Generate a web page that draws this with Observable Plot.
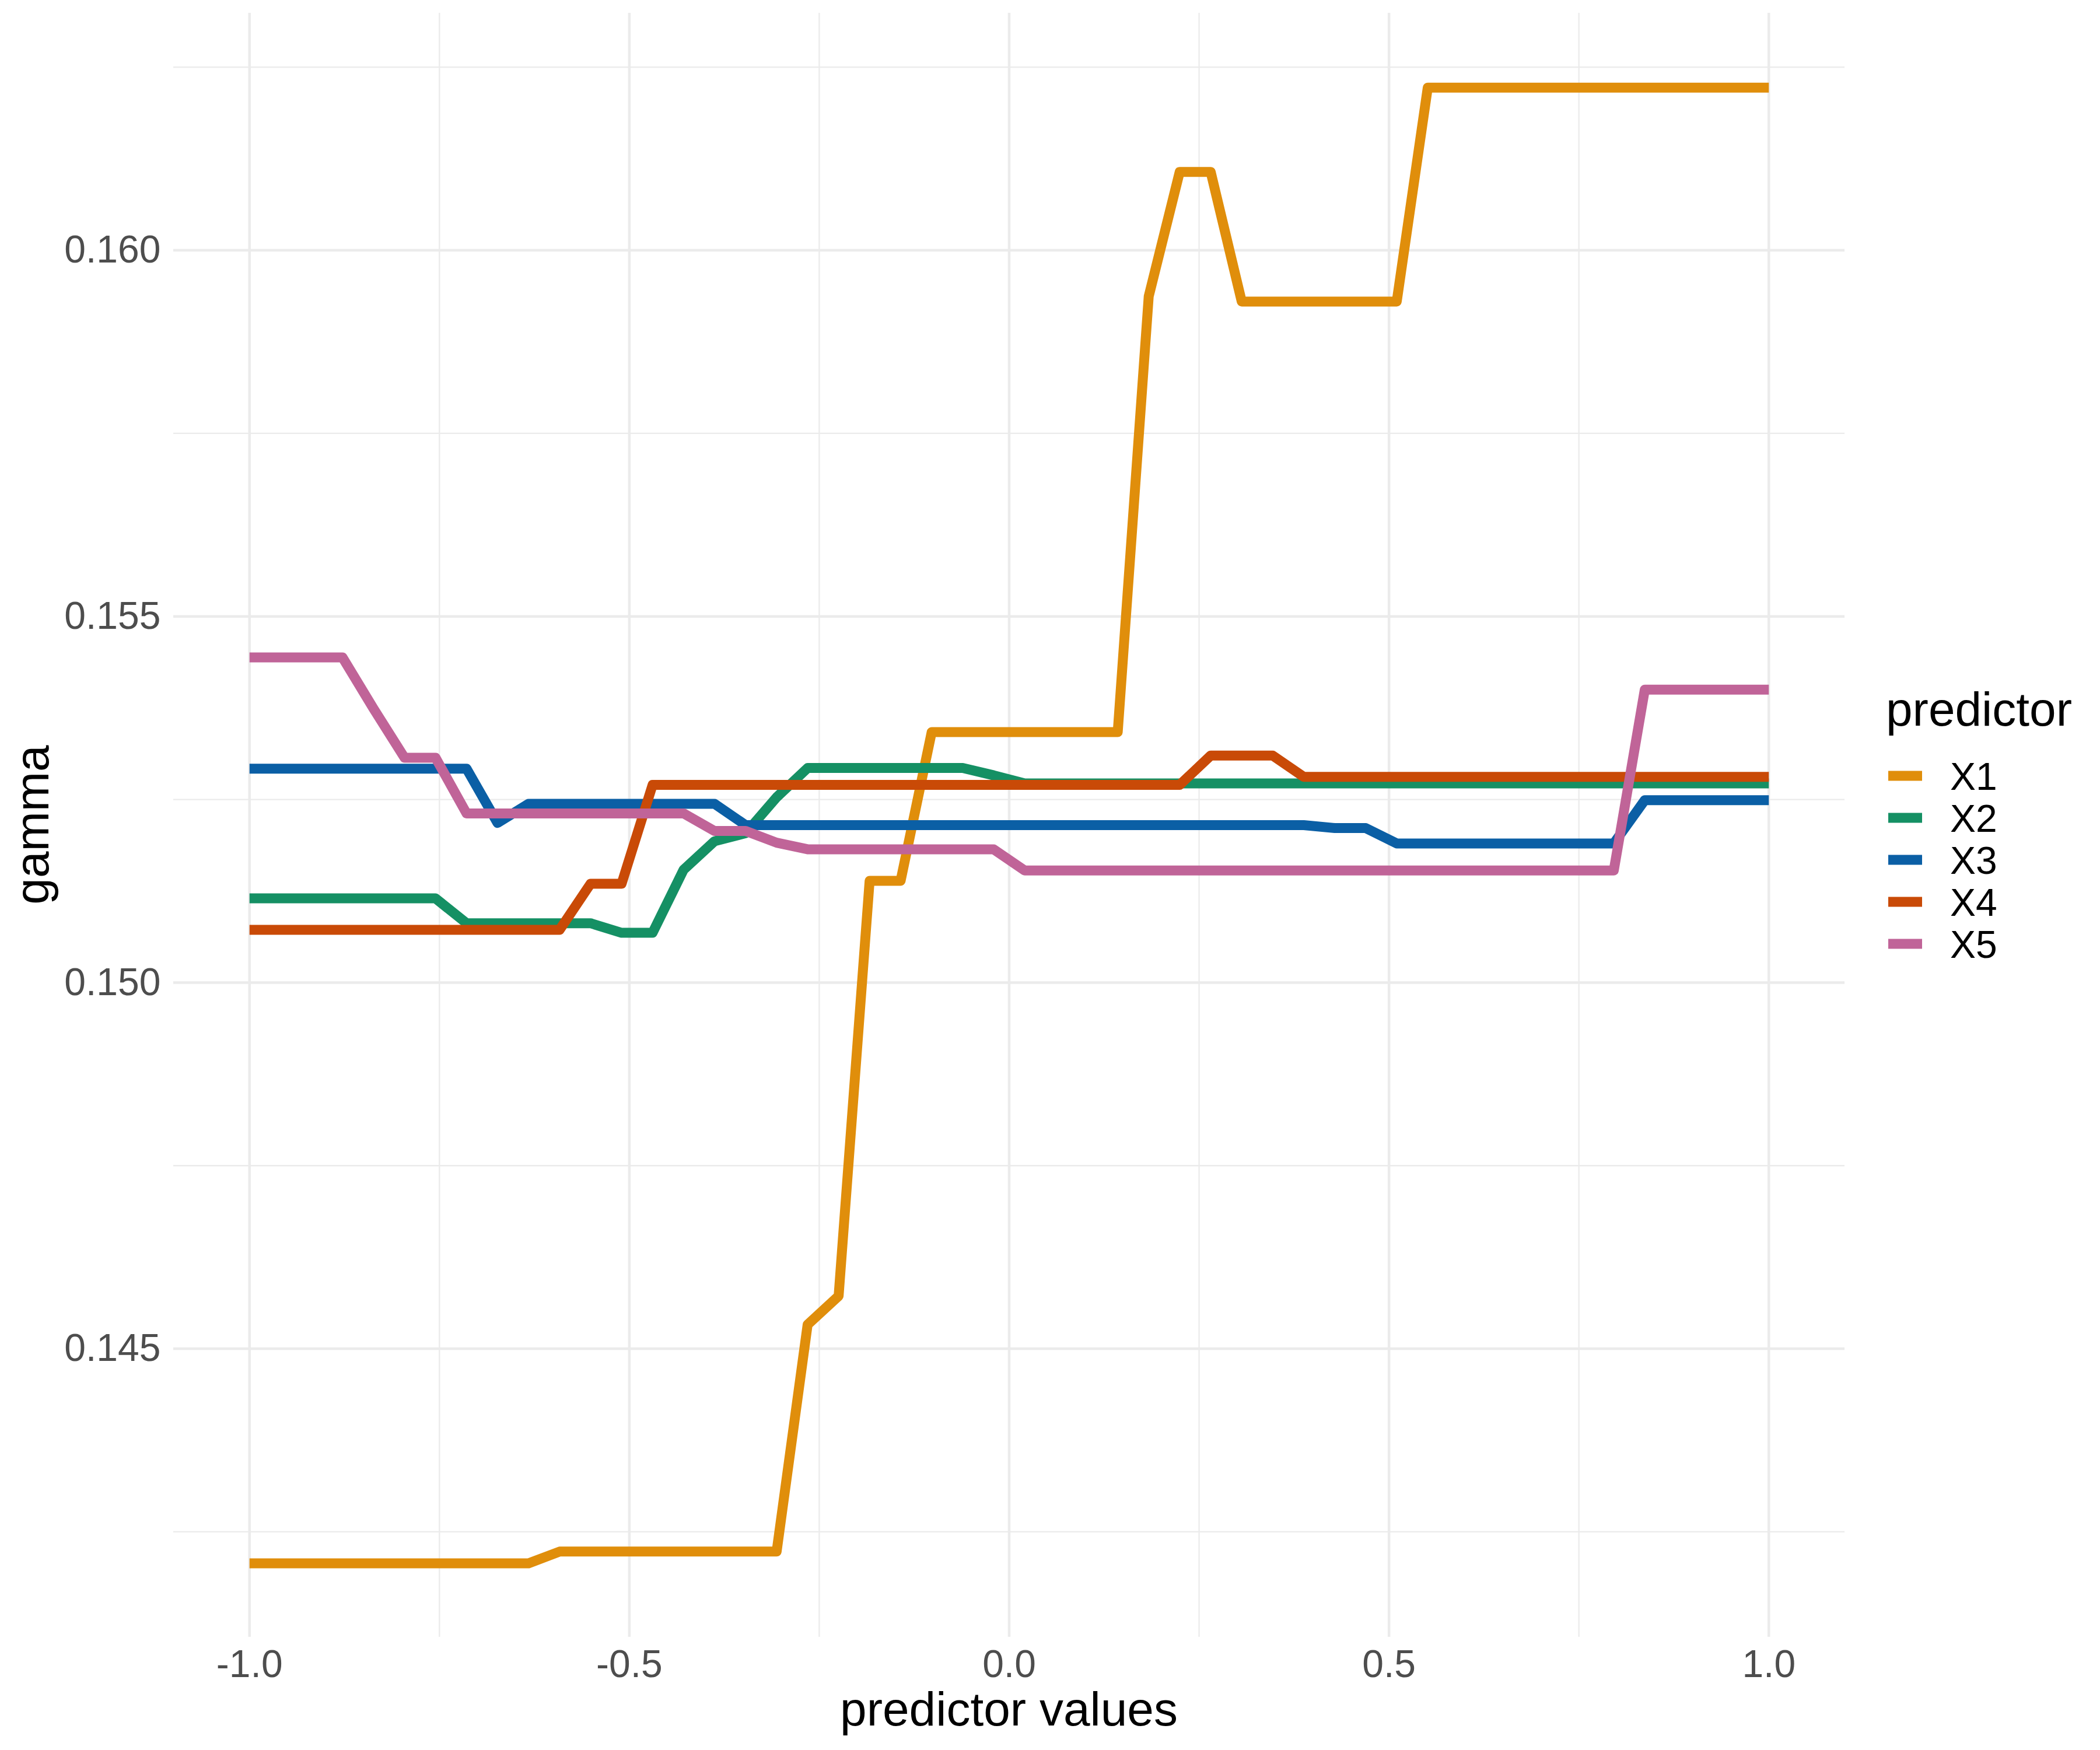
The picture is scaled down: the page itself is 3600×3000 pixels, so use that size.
<!DOCTYPE html>
<html>
<head>
<meta charset="utf-8">
<script src="https://cdn.jsdelivr.net/npm/d3@7"></script>
<script src="https://cdn.jsdelivr.net/npm/@observablehq/plot@0.6"></script>
<style>
  body { margin: 0; background: #ffffff; }
  svg { display: block; }
</style>
</head>
<body>
<div id="chart"></div>
<script>
// ---- data ----
const predictorValues = [
  -1.0000, -0.9592, -0.9184, -0.8776, -0.8367, -0.7959, -0.7551, -0.7143, -0.6735, -0.6327,
  -0.5918, -0.5510, -0.5102, -0.4694, -0.4286, -0.3878, -0.3469, -0.3061, -0.2653, -0.2245,
  -0.1837, -0.1429, -0.1020, -0.0612, -0.0204, 0.0204, 0.0612, 0.1020, 0.1429, 0.1837,
  0.2245, 0.2653, 0.3061, 0.3469, 0.3878, 0.4286, 0.4694, 0.5102, 0.5510, 0.5918,
  0.6327, 0.6735, 0.7143, 0.7551, 0.7959, 0.8367, 0.8776, 0.9184, 0.9592, 1.0000
];

const predictors = ["X1", "X2", "X3", "X4", "X5"];

const gammaX1 = [
  0.14207, 0.14207, 0.14207, 0.14207, 0.14207, 0.14207, 0.14207, 0.14207, 0.14207, 0.14207,
  0.14223, 0.14223, 0.14223, 0.14223, 0.14223, 0.14223, 0.14223, 0.14223, 0.14533, 0.14572,
  0.15139, 0.15139, 0.15342, 0.15342, 0.15342, 0.15342, 0.15342, 0.15342, 0.15342, 0.15937,
  0.16107, 0.16107, 0.15930, 0.15930, 0.15930, 0.15930, 0.15930, 0.15930, 0.16222, 0.16222,
  0.16222, 0.16222, 0.16222, 0.16222, 0.16222, 0.16222, 0.16222, 0.16222, 0.16222, 0.16222
];
const gammaX2 = [
  0.15115, 0.15115, 0.15115, 0.15115, 0.15115, 0.15115, 0.15115, 0.15081, 0.15081, 0.15081,
  0.15081, 0.15081, 0.15068, 0.15068, 0.15154, 0.15193, 0.15204, 0.15253, 0.15293, 0.15293,
  0.15293, 0.15293, 0.15293, 0.15293, 0.15283, 0.15272, 0.15272, 0.15272, 0.15272, 0.15272,
  0.15272, 0.15272, 0.15272, 0.15272, 0.15272, 0.15272, 0.15272, 0.15272, 0.15272, 0.15272,
  0.15272, 0.15272, 0.15272, 0.15272, 0.15272, 0.15272, 0.15272, 0.15272, 0.15272, 0.15272
];
const gammaX3 = [
  0.15292, 0.15292, 0.15292, 0.15292, 0.15292, 0.15292, 0.15292, 0.15292, 0.15218, 0.15244,
  0.15244, 0.15244, 0.15244, 0.15244, 0.15244, 0.15244, 0.15215, 0.15215, 0.15215, 0.15215,
  0.15215, 0.15215, 0.15215, 0.15215, 0.15215, 0.15215, 0.15215, 0.15215, 0.15215, 0.15215,
  0.15215, 0.15215, 0.15215, 0.15215, 0.15215, 0.15211, 0.15211, 0.15190, 0.15190, 0.15190,
  0.15190, 0.15190, 0.15190, 0.15190, 0.15190, 0.15249, 0.15249, 0.15249, 0.15249, 0.15249
];
const gammaX4 = [
  0.15072, 0.15072, 0.15072, 0.15072, 0.15072, 0.15072, 0.15072, 0.15072, 0.15072, 0.15072,
  0.15072, 0.15135, 0.15135, 0.15270, 0.15270, 0.15270, 0.15270, 0.15270, 0.15270, 0.15270,
  0.15270, 0.15270, 0.15270, 0.15270, 0.15270, 0.15270, 0.15270, 0.15270, 0.15270, 0.15270,
  0.15270, 0.15310, 0.15310, 0.15310, 0.15281, 0.15281, 0.15281, 0.15281, 0.15281, 0.15281,
  0.15281, 0.15281, 0.15281, 0.15281, 0.15281, 0.15281, 0.15281, 0.15281, 0.15281, 0.15281
];
const gammaX5 = [
  0.15444, 0.15444, 0.15444, 0.15444, 0.15374, 0.15307, 0.15307, 0.15231, 0.15231, 0.15231,
  0.15231, 0.15231, 0.15231, 0.15231, 0.15231, 0.15207, 0.15207, 0.15191, 0.15182, 0.15182,
  0.15182, 0.15182, 0.15182, 0.15182, 0.15182, 0.15153, 0.15153, 0.15153, 0.15153, 0.15153,
  0.15153, 0.15153, 0.15153, 0.15153, 0.15153, 0.15153, 0.15153, 0.15153, 0.15153, 0.15153,
  0.15153, 0.15153, 0.15153, 0.15153, 0.15153, 0.15400, 0.15400, 0.15400, 0.15400, 0.15400
];

const xMajorTicks = [-1.0, -0.5, 0.0, 0.5, 1.0];
const xMinorTicks = [-0.75, -0.25, 0.25, 0.75];
const yMajorTicks = [0.145, 0.150, 0.155, 0.160];
const yMinorTicks = [0.1425, 0.1475, 0.1525, 0.1575, 0.1625];

const palette = ["#E08E0B", "#159064", "#0B5FA5", "#C94A07", "#C06498"];

// ---- table ----
const seriesByName = { X1: gammaX1, X2: gammaX2, X3: gammaX3, X4: gammaX4, X5: gammaX5 };
const rows = [];
for (const p of predictors) {
  seriesByName[p].forEach((g, i) => rows.push({ predictor: p, x: predictorValues[i], gamma: g }));
}

const FONT = "'Liberation Sans', Arial, Helvetica, sans-serif";

const plot = Plot.plot({
  width: 3600,
  height: 3000,
  marginLeft: 297,
  marginRight: 438,
  marginTop: 22,
  marginBottom: 194,
  style: { fontFamily: FONT, background: "#ffffff", overflow: "visible" },
  x: { domain: [-1.1, 1.1] },
  y: { domain: [0.141062, 0.163238] },
  color: { domain: predictors, range: palette },
  marks: [
    Plot.ruleX(xMinorTicks, { stroke: "#EBEBEB", strokeWidth: 2.3 }),
    Plot.ruleY(yMinorTicks, { stroke: "#EBEBEB", strokeWidth: 2.3 }),
    Plot.ruleX(xMajorTicks, { stroke: "#EBEBEB", strokeWidth: 4.5 }),
    Plot.ruleY(yMajorTicks, { stroke: "#EBEBEB", strokeWidth: 4.5 }),
    Plot.line(rows, {
      x: "x", y: "gamma", z: "predictor", stroke: "predictor",
      strokeWidth: 17, strokeLinejoin: "round", strokeLinecap: "butt"
    }),
    Plot.axisX({
      ticks: xMajorTicks, tickSize: 0, tickPadding: 22,
      tickFormat: d => d.toFixed(1), fontSize: 66, fill: "#4D4D4D", label: null
    }),
    Plot.axisY({
      ticks: yMajorTicks, tickSize: 0, tickPadding: 22,
      tickFormat: d => d.toFixed(3), fontSize: 66, fill: "#4D4D4D", label: null
    })
  ]
});

document.getElementById("chart").appendChild(plot);

// ---- axis titles & legend ----
const svg = d3.select(plot);
const xs = plot.scale("x");
const ys = plot.scale("y");
const colorScale = plot.scale("color");

svg.append("text")
  .attr("x", (xs.range[0] + xs.range[1]) / 2)
  .attr("y", 2958)
  .attr("text-anchor", "middle")
  .attr("font-family", FONT)
  .attr("font-size", 82)
  .attr("fill", "#000")
  .text("predictor values");

svg.append("text")
  .attr("transform", `translate(83,${(ys.range[0] + ys.range[1]) / 2}) rotate(-90)`)
  .attr("text-anchor", "middle")
  .attr("font-family", FONT)
  .attr("font-size", 82)
  .attr("fill", "#000")
  .text("gamma");

const legend = svg.append("g").attr("font-family", FONT).attr("text-anchor", "start");
legend.append("text")
  .attr("x", 3233).attr("y", 1244)
  .attr("text-anchor", "start")
  .attr("font-size", 82).attr("fill", "#000")
  .text("predictor");

colorScale.domain.forEach((p, k) => {
  const cy = 1330 + k * 72;
  legend.append("line")
    .attr("x1", 3237).attr("x2", 3295)
    .attr("y1", cy).attr("y2", cy)
    .attr("stroke", colorScale.apply(p))
    .attr("stroke-width", 17);
  legend.append("text")
    .attr("x", 3343).attr("y", cy)
    .attr("dy", "0.36em")
    .attr("text-anchor", "start")
    .attr("font-size", 66).attr("fill", "#000")
    .text(p);
});
</script>
</body>
</html>
